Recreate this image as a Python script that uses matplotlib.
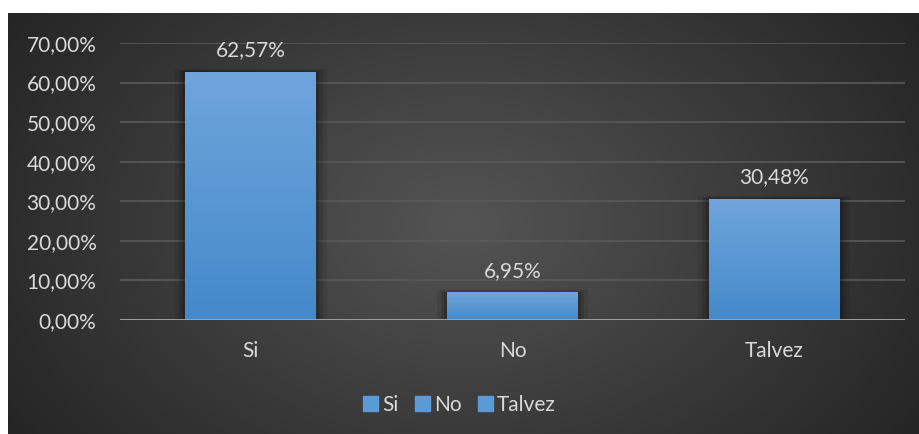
import numpy as np
import matplotlib
matplotlib.use("Agg")
import matplotlib.pyplot as plt
from matplotlib.colors import LinearSegmentedColormap
from matplotlib.patches import Rectangle

categories = ["Si", "No", "Talvez"]
values = [62.57, 6.95, 30.48]
labels = ["62,57%", "6,95%", "30,48%"]
yticks = [0, 10, 20, 30, 40, 50, 60, 70]
ytick_labels = ["0,00%", "10,00%", "20,00%", "30,00%", "40,00%", "50,00%", "60,00%", "70,00%"]

plt.rcParams['font.family'] = ['Lato', 'DejaVu Sans']
text_col = "#D9D9D9"
fs = 15

W, H = 919, 434
fig = plt.figure(figsize=(W / 100, H / 100), dpi=100)
fig.patch.set_facecolor("white")

# dark radial background
bg = fig.add_axes([8 / W, 0, (W - 8) / W, (H - 13) / H])
bg.set_axis_off()
yy, xx = np.mgrid[0:1:200j, 0:1:400j]
r = np.sqrt(((xx - 0.5) / 0.6) ** 2 + ((yy - 0.5) / 0.9) ** 2)
bg_cmap = LinearSegmentedColormap.from_list("bg", ["#545454", "#252525"])
bg.imshow(np.clip(r, 0, 1), cmap=bg_cmap, aspect="auto", extent=[0, 1, 0, 1], vmin=0, vmax=1)

ax = fig.add_axes([120 / W, (H - 320) / H, (905 - 120) / W, (320 - 43) / H])
ax.patch.set_alpha(0)
ax.set_xlim(-0.5, 2.5)
ax.set_ylim(0, 70)

x = np.arange(len(categories))
bars = ax.bar(x, values, width=0.5, color="none", zorder=3)
grad = np.linspace(0, 1, 100).reshape(-1, 1)
bar_cmap = LinearSegmentedColormap.from_list("bar", ["#4489CA", "#6FA5DB"])
for b in bars:
    x0, w, h = b.get_x(), b.get_width(), b.get_height()
    # soft shadow
    for k, a in [(0.04, 0.08), (0.025, 0.12), (0.012, 0.16)]:
        ax.add_patch(Rectangle((x0 - k, -0.6), w + 2 * k, h + 0.6 + k * 20, color="black",
                               alpha=a, zorder=2, lw=0))
    im = ax.imshow(grad, cmap=bar_cmap, extent=[x0, x0 + w, 0, h], origin="lower",
                   aspect="auto", zorder=3)
    im.set_clip_path(b)

for xi, v, lab in zip(x, values, labels):
    ax.text(xi, v + 3.0, lab, ha="center", va="bottom", color=text_col, fontsize=fs)

ax.set_yticks(yticks)
ax.set_yticklabels(ytick_labels)
ax.set_xticks(x)
ax.set_xticklabels(categories)
ax.tick_params(axis="both", length=0, colors=text_col, labelsize=fs)
ax.tick_params(axis="y", pad=17)
ax.tick_params(axis="x", pad=15)
ax.grid(axis="y", color="#5A5A5A", lw=1.2, zorder=0)
for s in ax.spines.values():
    s.set_visible(False)
ax.axhline(0, color="#A6A6A6", lw=2, zorder=4)

handles = [Rectangle((0, 0), 1, 1, color="#5B9BD5") for _ in categories]
leg = fig.legend(handles, categories, loc="center", bbox_to_anchor=(0.5, (H - 405) / H),
                 ncol=3, frameon=False, fontsize=fs, labelcolor=text_col,
                 handlelength=0.7, handleheight=0.7, handletextpad=0.2, columnspacing=0.8)

fig.savefig("out.png", dpi=100, facecolor=fig.get_facecolor())
